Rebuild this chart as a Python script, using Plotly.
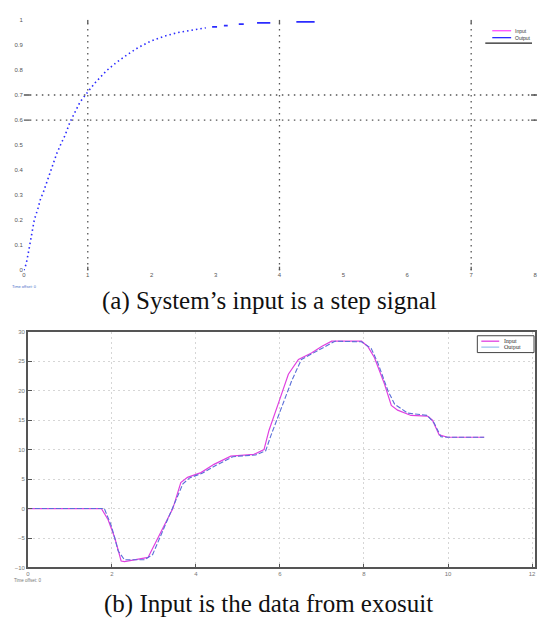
import plotly.graph_objects as go

W, H = 538, 619

# ---------------- (a) step response data ----------------
step_t = [0, 0.036, 0.067, 0.103, 0.139, 0.165, 0.217, 0.258, 0.31, 0.362, 0.413,
          0.465, 0.517, 0.584, 0.646, 0.724, 0.801, 0.879, 0.957, 1.034, 1.112,
          1.293, 1.449, 1.63, 1.786, 1.992, 2.199, 2.407, 2.613, 2.846]
step_y = [0, 0.026, 0.066, 0.119, 0.171, 0.204, 0.244, 0.283, 0.316, 0.356, 0.395,
          0.428, 0.468, 0.507, 0.54, 0.593, 0.632, 0.672, 0.698, 0.725, 0.748,
          0.797, 0.83, 0.863, 0.889, 0.916, 0.935, 0.949, 0.958, 0.968]
# sparse tail of the step response (drawn as separate short segments)
tail_t = [2.946, 3.023, None, 3.13, 3.19, None, 3.363, 3.441, None, 3.649, 3.856, None, 4.264, 4.55]
tail_y = [0.972, 0.972, None, 0.977, 0.977, None, 0.983, 0.983, None, 0.988, 0.988, None, 0.992, 0.992]
top_xticks = [0, 1, 2, 3, 4, 5, 6, 7, 8]
top_yticks = [0, 0.1, 0.2, 0.3, 0.4, 0.5, 0.6, 0.7, 0.8, 0.9, 1.0]
top_vgrid = [1, 4, 7]
top_hgrid = [0.6, 0.7]

# ---------------- (b) exosuit data ----------------
in_t = [0, 1.75, 1.91, 2.07, 2.22, 2.30, 2.86, 3.05, 3.25, 3.45, 3.64, 3.8, 4.12,
        4.43, 4.83, 5.38, 5.62, 5.74, 5.96, 6.2, 6.44, 6.75, 6.99, 7.23, 7.94,
        8.09, 8.25, 8.49, 8.65, 8.8, 9.12, 9.51, 9.63, 9.79, 9.99, 10.86]
in_v = [0, 0, -1.9, -5, -8.9, -9.0, -8.3, -5.6, -2.8, 0, 4.4, 5.3, 6.1,
        7.5, 8.9, 9.2, 10, 13.3, 17.8, 22.8, 25.3, 26.4, 27.5, 28.4, 28.4,
        27.5, 25.6, 21.1, 17.5, 16.7, 15.8, 15.7, 15.0, 12.5, 12.1, 12.1]
out_t = [0, 1.82, 1.99, 2.15, 2.3, 2.78, 2.97, 3.17, 3.41, 3.69, 3.85, 4.15,
         4.47, 4.88, 5.42, 5.66, 5.78, 6.04, 6.28, 6.51, 6.99, 7.31, 7.94,
         8.17, 8.33, 8.57, 8.73, 9.04, 9.51, 9.67, 9.83, 9.99, 10.86]
out_v = [0, 0, -3, -7.2, -8.7, -8.7, -7.8, -4.4, -0.6, 4.2, 5.2, 6.0,
         7.3, 8.8, 9.1, 9.8, 12.3, 17.2, 21.7, 25.3, 27.2, 28.4, 28.3,
         27.2, 24.7, 20.0, 17.7, 16.2, 15.8, 14.5, 12.2, 12.1, 12.1]
bot_xticks = [0, 2, 4, 6, 8, 10, 12]
bot_yticks = [-10, -5, 0, 5, 10, 15, 20, 25, 30]

def px(x):
    return x / W

def py(y):
    return 1 - y / H

fig = go.Figure()

DOT = "1.5px,3px"
fig.add_trace(go.Scatter(x=step_t, y=step_y, mode="lines", xaxis="x", yaxis="y",
                         line=dict(color="#2b2bff", width=1.6, dash=DOT), showlegend=False))
fig.add_trace(go.Scatter(x=tail_t, y=tail_y, mode="lines", xaxis="x", yaxis="y",
                         line=dict(color="#2b2bff", width=1.6), showlegend=False,
                         connectgaps=False))

fig.add_trace(go.Scatter(x=in_t, y=in_v, mode="lines", xaxis="x2", yaxis="y2",
                         line=dict(color="#e040e0", width=1.2), showlegend=False))
fig.add_trace(go.Scatter(x=out_t, y=out_v, mode="lines", xaxis="x2", yaxis="y2",
                         line=dict(color="#5b6fd8", width=1.1, dash="5px,2px"), showlegend=False))

tickfont = dict(family="Liberation Sans", size=6, color="#555")
tickfont2 = dict(family="Liberation Sans", size=6, color="#777")
shapes = []
annotations = []

# top reference grid lines
for v in top_vgrid:
    shapes.append(dict(type="line", xref="x", yref="y", x0=v, x1=v, y0=0, y1=1,
                       line=dict(color="#555", width=1.3, dash="1.5px,4.5px")))
    shapes.append(dict(type="line", xref="x", yref="y", x0=v, x1=v, y0=0.985, y1=1,
                       line=dict(color="#555", width=1.3)))
    shapes.append(dict(type="line", xref="x", yref="y", x0=v, x1=v, y0=0, y1=0.015,
                       line=dict(color="#555", width=1.3)))
for v in top_hgrid:
    shapes.append(dict(type="line", xref="paper", yref="y", x0=px(28), x1=1, y0=v, y1=v,
                       line=dict(color="#555", width=1.3, dash="1.5px,4.5px")))
    shapes.append(dict(type="line", xref="paper", yref="y", x0=px(22), x1=px(28), y0=v, y1=v,
                       line=dict(color="#555", width=1.3)))
    shapes.append(dict(type="line", xref="paper", yref="y", x0=px(532), x1=1, y0=v, y1=v,
                       line=dict(color="#555", width=1.3)))

# top legend (manual)
shapes.append(dict(type="line", xref="paper", yref="paper", x0=px(493), x1=px(512), y0=py(28), y1=py(28),
                   line=dict(color="#ff4dff", width=1.3)))
shapes.append(dict(type="line", xref="paper", yref="paper", x0=px(493), x1=px(512), y0=py(35), y1=py(35),
                   line=dict(color="#2b2bff", width=1.3)))
shapes.append(dict(type="line", xref="paper", yref="paper", x0=px(486), x1=px(533), y0=py(40.5), y1=py(40.5),
                   line=dict(color="#222", width=1.3)))
annotations.append(dict(xref="paper", yref="paper", x=px(514), y=py(28), text="Input", showarrow=False,
                        xanchor="left", yanchor="middle", font=dict(family="Liberation Sans", size=5, color="#333")))
annotations.append(dict(xref="paper", yref="paper", x=px(514), y=py(35), text="Output", showarrow=False,
                        xanchor="left", yanchor="middle", font=dict(family="Liberation Sans", size=5, color="#333")))

# bottom legend (manual)
shapes.append(dict(type="rect", xref="paper", yref="paper", x0=px(478), x1=px(535), y0=py(353), y1=py(336),
                   line=dict(color="#444", width=1), fillcolor="white"))
shapes.append(dict(type="line", xref="paper", yref="paper", x0=px(482), x1=px(500), y0=py(341.5), y1=py(341.5),
                   line=dict(color="#e040e0", width=1.3)))
shapes.append(dict(type="line", xref="paper", yref="paper", x0=px(482), x1=px(500), y0=py(347.5), y1=py(347.5),
                   line=dict(color="#9cc4ee", width=1.3)))
annotations.append(dict(xref="paper", yref="paper", x=px(503), y=py(341.5), text="Input", showarrow=False,
                        xanchor="left", yanchor="middle", font=dict(family="Liberation Serif", size=6, color="#333")))
annotations.append(dict(xref="paper", yref="paper", x=px(503), y=py(347.5), text="Output", showarrow=False,
                        xanchor="left", yanchor="middle", font=dict(family="Liberation Serif", size=6, color="#333")))

# small footer texts
annotations.append(dict(xref="paper", yref="paper", x=px(8), y=py(286), text="Time offset: 0", showarrow=False,
                        xanchor="left", yanchor="middle", font=dict(family="Liberation Sans", size=4, color="#4a6fc8")))
annotations.append(dict(xref="paper", yref="paper", x=px(10), y=py(583), text="Time offset: 0", showarrow=False,
                        xanchor="left", yanchor="middle", font=dict(family="Liberation Sans", size=4.5, color="#777")))

# captions
annotations.append(dict(xref="paper", yref="paper", x=px(269), y=py(301), text="(a) System’s input is a step signal",
                        showarrow=False, xanchor="center", yanchor="middle",
                        font=dict(family="Liberation Serif", size=25, color="#111")))
annotations.append(dict(xref="paper", yref="paper", x=px(268), y=py(607), text="(b) Input is the data from exosuit",
                        showarrow=False, xanchor="center", yanchor="middle",
                        font=dict(family="Liberation Serif", size=25, color="#111")))

fig.update_layout(
    width=W, height=H,
    margin=dict(l=0, r=0, t=0, b=0),
    paper_bgcolor="white", plot_bgcolor="white",
    showlegend=False,
    shapes=shapes, annotations=annotations,
    xaxis=dict(domain=[px(22), 1], range=[0, 8.03], tickvals=top_xticks,
               ticktext=[str(v) for v in top_xticks], showgrid=False, zeroline=False,
               showline=False, ticks="", tickfont=tickfont, anchor="y"),
    yaxis=dict(domain=[py(270), py(17)], range=[0, 1], tickvals=top_yticks,
               ticktext=[f"{v:g}" for v in top_yticks], showgrid=False, zeroline=False,
               showline=False, ticks="", tickfont=tickfont, anchor="x"),
    xaxis2=dict(domain=[px(26), px(536)], range=[0, 12.07], tickvals=bot_xticks,
                showgrid=True, gridcolor="#d6d6d6", griddash="2px,3px", gridwidth=1,
                zeroline=False, showline=True, mirror=True, linecolor="#555", linewidth=1.5,
                ticks="inside", ticklen=4, tickcolor="#555", tickfont=tickfont2, anchor="y2"),
    yaxis2=dict(domain=[py(570), py(332)], range=[-10, 30], tickvals=bot_yticks,
                showgrid=True, gridcolor="#d6d6d6", griddash="2px,3px", gridwidth=1,
                zeroline=False, showline=True, mirror=True, linecolor="#555", linewidth=1.5,
                ticks="inside", ticklen=4, tickcolor="#555", tickfont=tickfont2, anchor="x2"),
)

fig.write_html("out.html", config={"displayModeBar": False},
               post_script="document.body.style.margin='0';document.body.style.overflow='hidden';")
